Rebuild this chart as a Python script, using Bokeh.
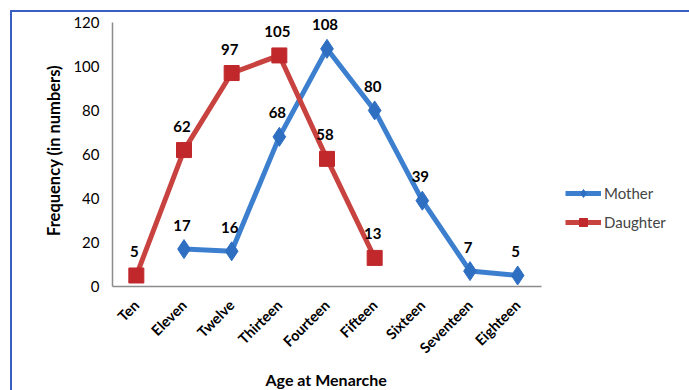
from bokeh.plotting import figure
from bokeh.models import (ColumnDataSource, LabelSet, Legend, LegendItem,
                          Range1d, FixedTicker, InlineStyleSheet, Title)
from bokeh.core.properties import value
from bokeh.embed import file_html
from bokeh.resources import INLINE
import math

ages = ["Ten", "Eleven", "Twelve", "Thirteen", "Fourteen", "Fifteen", "Sixteen", "Seventeen", "Eighteen"]
mother_ages = ["Eleven", "Twelve", "Thirteen", "Fourteen", "Fifteen", "Sixteen", "Seventeen", "Eighteen"]
mother_vals = [17, 16, 68, 108, 80, 39, 7, 5]
daughter_ages = ["Ten", "Eleven", "Twelve", "Thirteen", "Fourteen", "Fifteen"]
daughter_vals = [5, 62, 97, 105, 58, 13]
y_ticks = [0, 20, 40, 60, 80, 100, 120]

FONT = "Lato"
BLUE_LINE = "#3d7fcf"
BLUE_MARK = "#2f6fc2"
RED_LINE = "#c8433f"
RED_MARK = "#c0282c"

pos = {a: i + 1 for i, a in enumerate(ages)}

css = InlineStyleSheet(css="""
:host { position: relative; }
:host::after {
  content: ""; position: absolute; left: 10px; top: 10px;
  right: 0px; bottom: 0px;
  border-left: 2px solid #3a5fc4; border-top: 2px solid #3a5fc4;
  pointer-events: none;
}
""")

n = len(ages)
x_end = 0.5 + n * (689 - 112) / 429.0

p = figure(width=689, height=390, x_range=Range1d(0.5, x_end),
           y_range=Range1d(0, 123.6), output_backend="svg", toolbar_location=None,
           min_border_left=112, min_border_right=0, min_border_top=14, min_border_bottom=101,
           stylesheets=[css])
p.background_fill_color = "white"
p.border_fill_color = "white"
p.outline_line_color = None
p.grid.grid_line_color = None

msrc = ColumnDataSource(dict(x=[pos[a] for a in mother_ages], y=mother_vals,
                             t=[str(v) for v in mother_vals]))
dsrc = ColumnDataSource(dict(x=[pos[a] for a in daughter_ages], y=daughter_vals,
                             t=[str(v) for v in daughter_vals]))

ml = p.line("x", "y", source=msrc, line_color=BLUE_LINE, line_width=5)
ms = p.scatter("x", "y", source=msrc, marker="diamond", size=19, fill_color=BLUE_MARK, line_color=BLUE_MARK)
dl = p.line("x", "y", source=dsrc, line_color=RED_LINE, line_width=5)
ds = p.scatter("x", "y", source=dsrc, marker="square", size=15, fill_color=RED_MARK, line_color=RED_MARK)

for src in (msrc, dsrc):
    p.add_layout(LabelSet(x="x", y="y", text="t", source=src, y_offset=24, x_offset=-2,
                          text_align="center", text_baseline="middle",
                          text_font=value(FONT), text_font_style="bold", text_font_size="15px",
                          text_color="black"))

p.yaxis.ticker = FixedTicker(ticks=y_ticks)
p.yaxis.bounds = (0, 120)
p.xaxis.ticker = FixedTicker(ticks=[pos[a] for a in ages])
p.xaxis.major_label_overrides = {pos[a]: a for a in ages}
p.xaxis.bounds = (0.5, n + 0.5)
for ax in (p.xaxis, p.yaxis):
    ax.axis_line_color = "#8c8c8c"
    ax.axis_line_width = 1.5
    ax.major_tick_line_color = None
    ax.minor_tick_line_color = None
    ax.major_tick_out = 0
    ax.major_tick_in = 0
    ax.major_label_text_font = FONT
    ax.axis_label_text_font = FONT
    ax.axis_label_text_font_style = "bold"
    ax.major_label_text_color = "black"
    ax.axis_label_text_color = "black"

p.yaxis.major_label_text_font_size = "15px"
p.yaxis.major_label_standoff = 13
p.yaxis.axis_label = "Frequency (in numbers)"
p.yaxis.axis_label_text_font_size = "16.5px"
p.yaxis.axis_label_standoff = 6

p.xaxis.major_label_orientation = math.pi / 4
p.xaxis.major_label_text_font_size = "14.5px"
p.xaxis.major_label_text_font_style = "bold"
p.xaxis.major_label_standoff = 16

p.add_layout(Title(text="Age at Menarche", align="left", offset=153, standoff=4,
                   text_font=FONT, text_font_size="16px", text_font_style="bold",
                   text_color="black"), "below")

legend = Legend(items=[LegendItem(label="Mother", renderers=[ml, ms]),
                       LegendItem(label="Daughter", renderers=[dl, ds])],
                location=(453, 54), padding=0, margin=0, spacing=9,
                glyph_width=36, glyph_height=20, label_standoff=3,
                label_text_font=FONT, label_text_font_size="15px",
                border_line_color=None, background_fill_alpha=0)
p.add_layout(legend, "center")

open("out.html", "w").write(file_html(p, INLINE))
